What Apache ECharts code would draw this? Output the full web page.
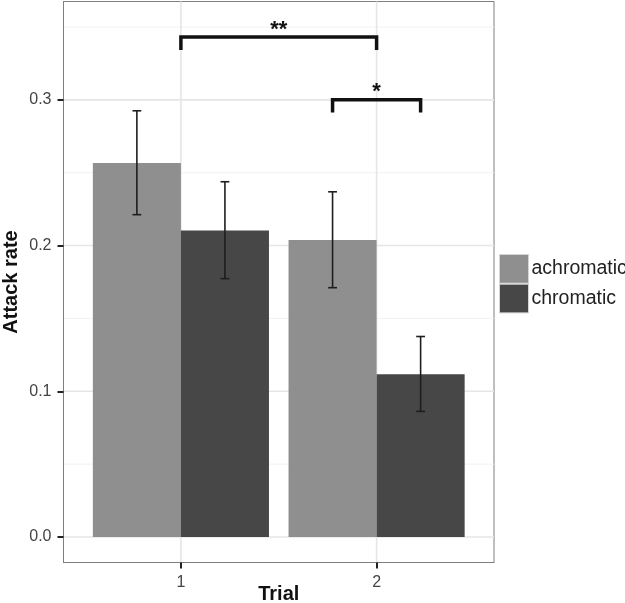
<!DOCTYPE html>
<html>
<head>
<meta charset="utf-8">
<script src="https://cdn.jsdelivr.net/npm/echarts@6/dist/echarts.min.js"></script>
<style>
html,body{margin:0;padding:0;background:#fff;}
#chart{width:625px;height:603px;}
</style>
</head>
<body>
<div id="chart"></div>
<script>
// ---- data ----
const trials = [1, 2];
const trialLabels = ['1', '2'];
const groupNames = ['achromatic', 'chromatic'];
const achromatic = [0.2566, 0.2038];
const chromatic = [0.2104, 0.1117];
const achromaticLow = [0.2212, 0.1711];
const achromaticHigh = [0.2925, 0.2369];
const chromaticLow = [0.1773, 0.0862];
const chromaticHigh = [0.2438, 0.1376];
const yTicks = [0, 0.1, 0.2, 0.3];
const yTickLabels = ['0.0', '0.1', '0.2', '0.3'];
const yMinorTicks = [0.05, 0.15, 0.25, 0.35];
const bracketStart = [1, 1.775];
const bracketEnd = [2, 2.225];
const bracketTop = [0.3432, 0.3];
const bracketLeg = [0.3343, 0.2913];
const bracketLabelY = [0.3483, 0.3053];
const bracketLabels = ['**', '*'];

// ---- layout / style ----
const FONT = "'Liberation Sans', Arial, sans-serif";
const X_MIN = 0.4, X_MAX = 2.6, Y_MIN = -0.0175, Y_MAX = 0.3675;
const DODGE = 0.45;           // each bar's width in axis units
const CAP = 0.045;            // error-bar cap width in axis units
const colors = ['#8f8f8f', '#474747'];

const chart = echarts.init(document.getElementById('chart'), null, {renderer: 'canvas'});

function gridLineSeries(values, color, width, vertical) {
  return {
    type: 'custom', silent: true, z: 0,
    data: values.map(v => [v]),
    renderItem: (params, api) => {
      const v = api.value(0);
      const a = vertical ? api.coord([v, Y_MIN]) : api.coord([X_MIN, v]);
      const b = vertical ? api.coord([v, Y_MAX]) : api.coord([X_MAX, v]);
      return {type: 'line', shape: {x1: a[0], y1: a[1], x2: b[0], y2: b[1]},
              style: {stroke: color, lineWidth: width}};
    }
  };
}

function barSeries(name, values, offset, color) {
  return {
    type: 'custom', name: name, z: 2,
    itemStyle: {color: color},
    data: trials.map((t, i) => [t, values[i]]),
    renderItem: (params, api) => {
      const x = api.value(0) + offset;
      const p0 = api.coord([x - DODGE / 2, api.value(1)]);
      const p1 = api.coord([x + DODGE / 2, 0]);
      return {type: 'rect', shape: {x: p0[0], y: p0[1], width: p1[0] - p0[0], height: p1[1] - p0[1]},
              style: {fill: color}};
    }
  };
}

function errorSeries(low, high, offset) {
  return {
    type: 'custom', silent: true, z: 3,
    data: trials.map((t, i) => [t, low[i], high[i]]),
    renderItem: (params, api) => {
      const x = api.value(0) + offset;
      const lo = api.coord([x, api.value(1)]);
      const hi = api.coord([x, api.value(2)]);
      const lL = api.coord([x - CAP / 2, api.value(1)]);
      const lR = api.coord([x + CAP / 2, api.value(1)]);
      const hL = api.coord([x - CAP / 2, api.value(2)]);
      const hR = api.coord([x + CAP / 2, api.value(2)]);
      const st = {stroke: '#1e1e1e', lineWidth: 1.6};
      return {type: 'group', children: [
        {type: 'line', shape: {x1: lo[0], y1: lo[1], x2: hi[0], y2: hi[1]}, style: st},
        {type: 'line', shape: {x1: lL[0], y1: lL[1], x2: lR[0], y2: lR[1]}, style: st},
        {type: 'line', shape: {x1: hL[0], y1: hL[1], x2: hR[0], y2: hR[1]}, style: st}
      ]};
    }
  };
}

const bracketSeries = {
  type: 'custom', silent: true, z: 4,
  data: bracketStart.map((s, i) => [s, bracketEnd[i], bracketTop[i], bracketLeg[i], bracketLabelY[i], i]),
  renderItem: (params, api) => {
    const s = api.value(0), e = api.value(1), top = api.value(2), leg = api.value(3), ly = api.value(4);
    const idx = api.value(5);
    const a = api.coord([s, leg]), b = api.coord([s, top]), c = api.coord([e, top]), d = api.coord([e, leg]);
    const t = api.coord([(s + e) / 2, ly]);
    return {type: 'group', children: [
      {type: 'polyline', shape: {points: [a, b, c, d]},
       style: {stroke: '#111', lineWidth: 3.5, fill: null, lineJoin: 'miter', lineCap: 'butt'}},
      {type: 'text', x: t[0], y: t[1],
       style: {text: bracketLabels[idx], fill: '#111', font: 'bold 22px ' + FONT,
               align: 'center', verticalAlign: 'middle'}}
    ]};
  }
};

const option = {
  animation: false,
  backgroundColor: '#fff',
  textStyle: {fontFamily: FONT},
  grid: {left: 63.5, top: 1.5, width: 430.5, height: 561, show: true,
         containLabel: false, outerBoundsMode: 'none',
         borderColor: '#7f7f7f', borderWidth: 1, backgroundColor: 'transparent'},
  legend: {
    orient: 'vertical', left: 499, top: 254, padding: 0,
    itemWidth: 29, itemHeight: 28.7, itemGap: 0, icon: 'rect',
    data: groupNames,
    itemStyle: {borderColor: '#d4d4d4', borderWidth: 1},
    textStyle: {fontSize: 19.5, color: '#222', fontFamily: FONT, padding: [2, 0, 0, -2]}
  },
  xAxis: {
    type: 'value', min: X_MIN, max: X_MAX,
    name: 'Trial', nameLocation: 'middle', nameGap: 22, nameMoveOverlap: false,
    nameTextStyle: {fontSize: 20, fontWeight: 'bold', color: '#111', fontFamily: FONT},
    axisLine: {show: true, onZero: false, lineStyle: {color: '#7f7f7f', width: 1}},
    axisTick: {show: true, length: 6, customValues: trials, lineStyle: {color: '#222', width: 2}},
    axisLabel: {customValues: trials, fontSize: 16, color: '#444', margin: 12,
                formatter: v => trialLabels[trials.findIndex(t => Math.abs(t - v) < 1e-9)]},
    splitLine: {show: false}
  },
  yAxis: {
    type: 'value', min: Y_MIN, max: Y_MAX,
    name: 'Attack rate', nameLocation: 'middle', nameGap: 42, nameRotate: 90, nameMoveOverlap: false,
    nameTextStyle: {fontSize: 20, fontWeight: 'bold', color: '#111', fontFamily: FONT},
    axisLine: {show: true, onZero: false, lineStyle: {color: '#7f7f7f', width: 1}},
    axisTick: {show: true, length: 6, customValues: yTicks, lineStyle: {color: '#222', width: 2}},
    axisLabel: {customValues: yTicks, fontSize: 16, color: '#444', margin: 12,
                formatter: v => yTickLabels[yTicks.findIndex(t => Math.abs(t - v) < 1e-9)]},
    splitLine: {show: false}
  },
  series: [
    gridLineSeries(yMinorTicks, '#f2f2f2', 1, false),
    gridLineSeries(yTicks, '#e6e6e6', 1.6, false),
    gridLineSeries(trials, '#e6e6e6', 1.6, true),
    barSeries(groupNames[0], achromatic, -DODGE / 2, colors[0]),
    barSeries(groupNames[1], chromatic, DODGE / 2, colors[1]),
    errorSeries(achromaticLow, achromaticHigh, -DODGE / 2),
    errorSeries(chromaticLow, chromaticHigh, DODGE / 2),
    bracketSeries
  ]
};
chart.setOption(option);
</script>
</body>
</html>
